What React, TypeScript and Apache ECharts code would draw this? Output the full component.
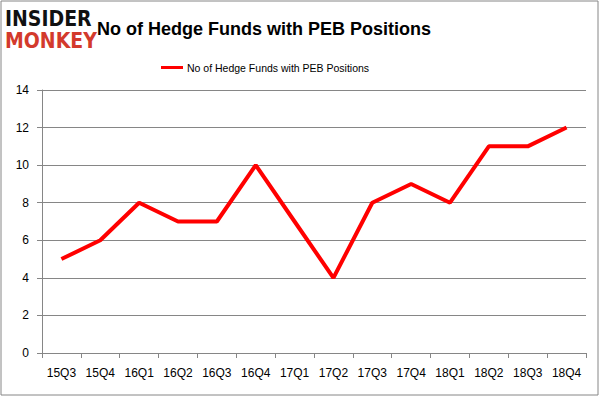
import React, { useEffect, useRef } from "react";
import * as echarts from "echarts";

const categories = ["15Q3", "15Q4", "16Q1", "16Q2", "16Q3", "16Q4", "17Q1", "17Q2", "17Q3", "17Q4", "18Q1", "18Q2", "18Q3", "18Q4"];
const hedgeFunds = [5, 6, 8, 7, 7, 10, 7, 4, 8, 9, 8, 11, 11, 12];
const seriesName = "No of Hedge Funds with PEB Positions";
const titleText = "No of Hedge Funds with PEB Positions";

export default function App() {
  const ref = useRef<HTMLDivElement>(null);
  useEffect(() => {
    const chart = echarts.init(ref.current!, undefined, { renderer: "svg" });
    chart.setOption({
      animation: false,
      backgroundColor: "#fff",
      title: {
        text: titleText,
        left: 92,
        top: 15,
        textStyle: { fontFamily: "Liberation Sans", fontSize: 18, fontWeight: "bold", color: "#000" },
      },
      legend: {
        data: [seriesName],
        top: 57,
        left: 156,
        itemWidth: 22,
        itemHeight: 3,
        itemGap: 4,
        icon: "rect",
        textStyle: { fontFamily: "Liberation Sans", fontSize: 10.5, color: "#000", padding: [0, 0, 0, -1] },
      },
      grid: { left: 42, right: 16, top: 90, bottom: 45 },
      xAxis: {
        type: "category",
        data: categories,
        boundaryGap: true,
        axisLine: { lineStyle: { color: "#868686" } },
        axisTick: { show: true, length: 5, lineStyle: { color: "#868686" } },
        axisLabel: { fontFamily: "Liberation Sans", fontSize: 12, color: "#000", margin: 14 },
      },
      yAxis: {
        type: "value",
        min: 0,
        max: 14,
        interval: 2,
        axisLine: { show: true, lineStyle: { color: "#868686" } },
        axisTick: { show: true, length: 5, lineStyle: { color: "#868686" } },
        splitLine: { lineStyle: { color: "#868686" } },
        axisLabel: { fontFamily: "Liberation Sans", fontSize: 12, color: "#000", margin: 13 },
      },
      graphic: [
        { type: "rect", shape: { x: 1, y: 1, width: 597, height: 394 }, style: { fill: "none", stroke: "#868686", lineWidth: 1 }, silent: true },
        { type: "text", x: 5, y: 8, style: { text: "INSIDER", font: "900 21px 'DejaVu Sans Condensed'", fill: "#111" } },
        { type: "text", x: 5, y: 30, style: { text: "MONKEY", font: "900 21px 'DejaVu Sans Condensed'", fill: "#d33a2c" } },
      ],
      series: [
        {
          name: seriesName,
          type: "line",
          data: hedgeFunds,
          symbol: "none",
          lineStyle: { color: "#ff0000", width: 4 },
          itemStyle: { color: "#ff0000" },
        },
      ],
    });
    return () => chart.dispose();
  }, []);
  return <div ref={ref} style={{ width: 602, height: 398, position: "absolute", left: 0, top: 0 }} />;
}
